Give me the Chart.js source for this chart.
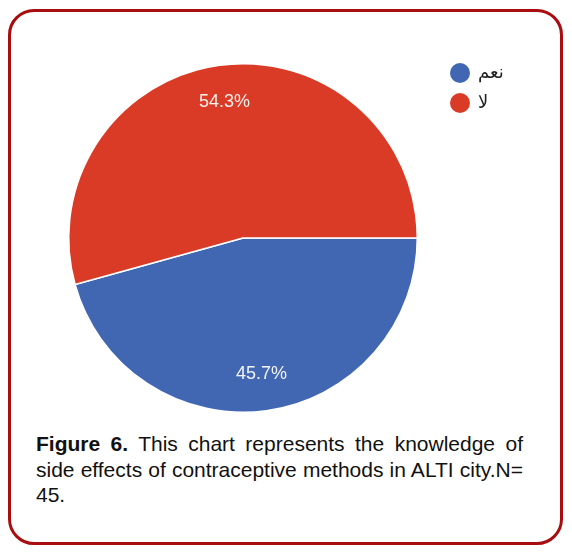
<!DOCTYPE html>
<html>
<head>
<meta charset="utf-8">
<script src="https://cdn.jsdelivr.net/npm/chart.js@4"></script>
<style>
  html, body { margin: 0; padding: 0; background: #fff; }
  body { width: 572px; height: 556px; position: relative; overflow: hidden; }
  #frame { position: absolute; left: 8px; top: 9px; width: 549px; height: 530px;
           border: 3px solid #a80d10; border-radius: 26px; box-sizing: content-box; }
  #wrap { position: absolute; left: 0; top: 0; width: 572px; height: 420px; }
  #caption { position: absolute; left: 36px; top: 431px; width: 487px;
             font-family: "Liberation Sans", Arial, sans-serif; font-size: 21px;
             line-height: 25.5px; color: #111; text-align: justify; }
</style>
</head>
<body>
<div id="frame"></div>
<div id="wrap"><canvas id="c"></canvas></div>
<div id="caption"><b>Figure 6.</b> This chart represents the knowledge of side effects of contraceptive methods in ALTI city.N= 45.</div>
<script>
const categories = ["نعم", "لا"];
const values = [45.7, 54.3];
const colors = ["#4267b2", "#da3b27"];
const sliceLabels = ["45.7%", "54.3%"];

const labelPlugin = {
  id: "sliceLabels",
  afterDatasetsDraw(chart) {
    const ctx = chart.ctx;
    const meta = chart.getDatasetMeta(0);
    ctx.save();
    ctx.font = "18px 'Liberation Sans', Arial, sans-serif";
    ctx.fillStyle = "rgba(255,255,255,0.93)";
    ctx.textAlign = "center";
    ctx.textBaseline = "middle";
    meta.data.forEach((arc, i) => {
      const p = arc.getProps(["x", "y", "startAngle", "endAngle", "outerRadius"], true);
      const mid = (p.startAngle + p.endAngle) / 2;
      const r = p.outerRadius * 0.79;
      ctx.fillText(sliceLabels[i], p.x + Math.cos(mid) * r, p.y + Math.sin(mid) * r);
    });
    ctx.restore();
  }
};

const legendPlugin = {
  id: "customLegend",
  afterDraw(chart) {
    const ctx = chart.ctx;
    ctx.save();
    ctx.font = "18px 'Noto Sans', 'DejaVu Sans', sans-serif";
    ctx.textBaseline = "middle";
    ctx.textAlign = "left";
    chart.data.labels.forEach((lab, i) => {
      const y = 73 + i * 30;
      ctx.beginPath();
      ctx.arc(460, y, 10, 0, Math.PI * 2);
      ctx.fillStyle = chart.data.datasets[0].backgroundColor[i];
      ctx.fill();
      ctx.fillStyle = "#222";
      ctx.fillText(lab, 478, y);
    });
    ctx.restore();
  }
};

new Chart(document.getElementById("c"), {
  type: "pie",
  data: {
    labels: categories,
    datasets: [{
      data: values,
      backgroundColor: colors,
      borderColor: "#ffffff",
      borderWidth: 1.5
    }]
  },
  options: {
    responsive: true,
    maintainAspectRatio: false,
    animation: false,
    rotation: 90,
    layout: { padding: { left: 68, top: 63, right: 154, bottom: 7 } },
    plugins: {
      legend: { display: false },
      tooltip: { enabled: false }
    }
  },
  plugins: [labelPlugin, legendPlugin]
});
</script>
</body>
</html>
